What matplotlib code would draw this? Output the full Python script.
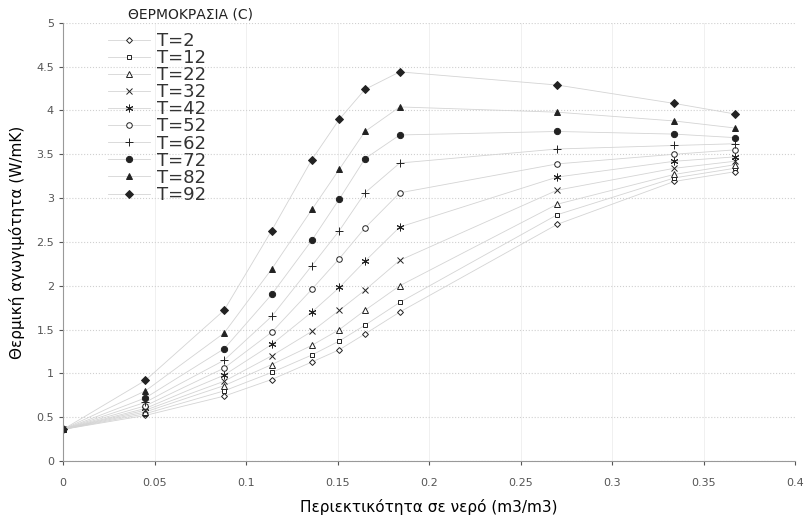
import matplotlib
matplotlib.use('Agg')
from matplotlib import pyplot as plt

# water content (m3/m3)
x = [0, 0.045, 0.088, 0.114, 0.136, 0.151, 0.165, 0.184, 0.27, 0.334, 0.367]

labels = ['T=2', 'T=12', 'T=22', 'T=32', 'T=42', 'T=52', 'T=62', 'T=72', 'T=82', 'T=92']

t2 = [0.36, 0.52, 0.74, 0.93, 1.13, 1.27, 1.45, 1.70, 2.70, 3.19, 3.30]
t12 = [0.36, 0.54, 0.80, 1.01, 1.21, 1.37, 1.55, 1.81, 2.81, 3.23, 3.34]
t22 = [0.36, 0.56, 0.86, 1.10, 1.32, 1.50, 1.72, 2.00, 2.93, 3.27, 3.38]
t32 = [0.36, 0.58, 0.91, 1.20, 1.48, 1.72, 1.95, 2.29, 3.09, 3.34, 3.42]
t42 = [0.36, 0.60, 0.98, 1.33, 1.70, 1.98, 2.28, 2.67, 3.24, 3.42, 3.47]
t52 = [0.36, 0.63, 1.06, 1.47, 1.96, 2.31, 2.66, 3.06, 3.39, 3.50, 3.55]
t62 = [0.36, 0.67, 1.15, 1.65, 2.23, 2.63, 3.06, 3.40, 3.56, 3.60, 3.62]
t72 = [0.36, 0.72, 1.28, 1.90, 2.52, 2.99, 3.45, 3.72, 3.76, 3.73, 3.69]
t82 = [0.36, 0.80, 1.46, 2.19, 2.87, 3.33, 3.76, 4.04, 3.98, 3.88, 3.80]
t92 = [0.36, 0.92, 1.72, 2.63, 3.44, 3.90, 4.24, 4.44, 4.29, 4.08, 3.96]

series = [t2, t12, t22, t32, t42, t52, t62, t72, t82, t92]
markers = ['D', 's', '^', 'x', (6, 2, 0), 'o', '+', 'o', '^', 'D']
filled = [False, False, False, False, False, False, False, True, True, True]
sizes = [3, 3.5, 4, 4.5, 5.5, 4, 5.5, 4.5, 5, 4]

fig = plt.figure(figsize=(8.08, 5.18), dpi=100)
ax = fig.add_axes([0.078, 0.110, 0.906, 0.846])

for y, lab, m, f, s in zip(series, labels, markers, filled, sizes):
    ax.plot(x, y, color='#d4d4d4', lw=0.6, marker=m, ms=s,
            mec='#222222', mfc='#222222' if f else 'white', mew=0.7,
            label=lab)

ax.set_xlim(0, 0.4)
ax.set_ylim(0, 5)
ax.set_xticks([0, 0.05, 0.1, 0.15, 0.2, 0.25, 0.3, 0.35, 0.4])
ax.set_xticklabels(['0', '0.05', '0.1', '0.15', '0.2', '0.25', '0.3', '0.35', '0.4'])
ax.set_yticks([0, 0.5, 1, 1.5, 2, 2.5, 3, 3.5, 4, 4.5, 5])
ax.set_yticklabels(['0', '0.5', '1', '1.5', '2', '2.5', '3', '3.5', '4', '4.5', '5'])
ax.tick_params(axis='both', labelsize=8, colors='#555555', length=3)
ax.tick_params(axis='x', pad=9)

ax.grid(axis='y', color='#d0d0d0', lw=0.8, ls=':')
ax.grid(axis='x', color='#eeeeee', lw=0.6)
for s in ['top', 'right']:
    ax.spines[s].set_visible(False)
ax.spines['left'].set_color('#999999')
ax.spines['bottom'].set_color('#999999')

ax.set_xlabel('Περιεκτικότητα σε νερό (m3/m3)', fontsize=11, labelpad=8)
ax.set_ylabel('Θερμική αγωγιμότητα (W/mK)', fontsize=11, labelpad=8)

leg = ax.legend(loc='upper left', bbox_to_anchor=(0.0615, 0.979), frameon=False,
                fontsize=13, handlelength=2.3, handletextpad=0.4,
                labelspacing=-0.05, borderaxespad=0, borderpad=0)
for t in leg.get_texts():
    t.set_color('#333333')

fig.text(128 / 808, 1 - 15 / 518, 'ΘΕΡΜΟΚΡΑΣΙΑ (C)', fontsize=10,
         color='#222222', ha='left', va='center')

fig.savefig('out.png', dpi=100)
